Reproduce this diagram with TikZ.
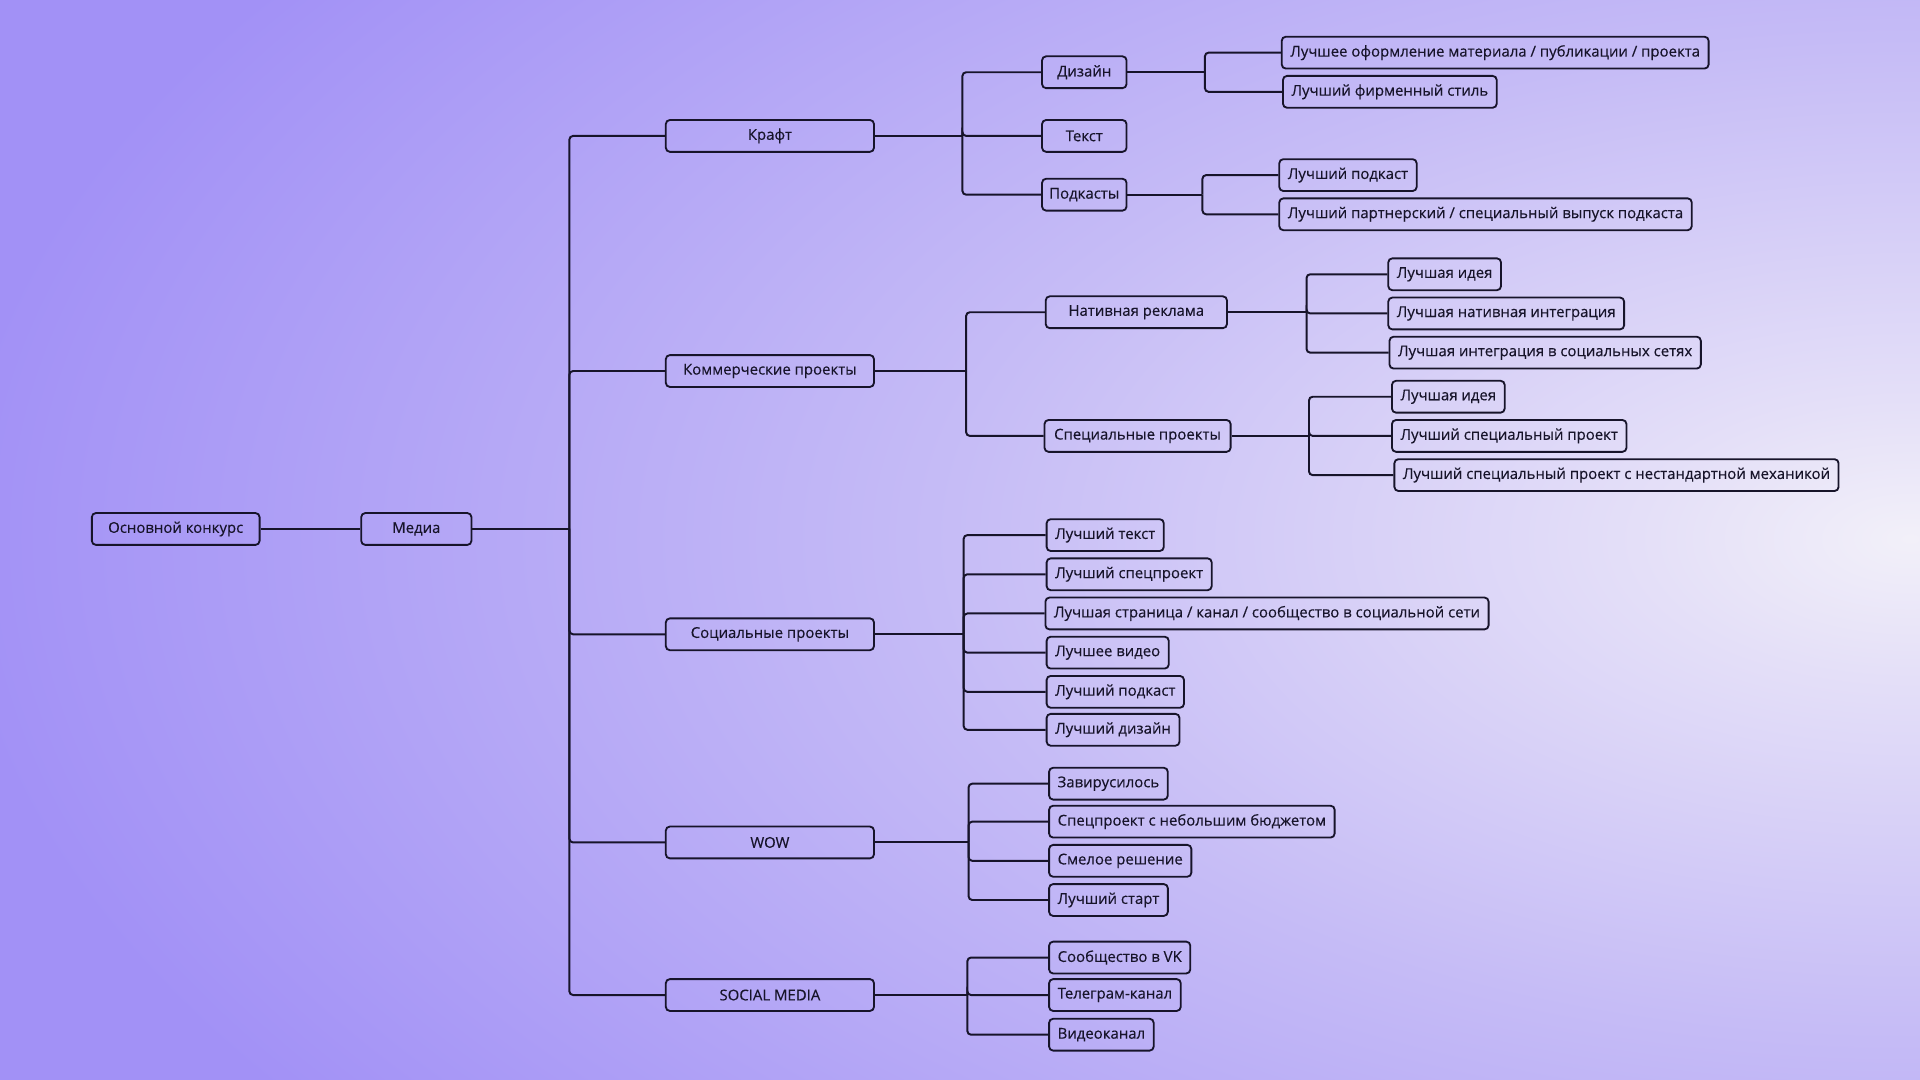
\documentclass[tikz,border=0pt]{standalone}
\usepackage{fontspec}
\setmainfont[FakeBold=0.3]{Open Sans}
\usepackage{tikz}
\usetikzlibrary{positioning,calc}
\definecolor{inkdark}{HTML}{17142A}
\definecolor{bgwhite}{HTML}{F2F0F9}
\definecolor{bglight}{HTML}{E4DFF8}
\definecolor{bgmid}{HTML}{C5BBF6}
\definecolor{bgdeep}{HTML}{A291F6}
\pgfdeclareradialshading{bgglow}{\pgfpoint{0bp}{0bp}}{color(0bp)=(bgwhite); color(3.5bp)=(bglight); color(12.5bp)=(bgmid); color(25bp)=(bgdeep); color(50bp)=(bgdeep)}

\begin{document}
\begin{tikzpicture}[x=1pt, y=-1pt,
    box/.style={rectangle, draw=inkdark, line width=1.5pt, rounded corners=3.3pt, minimum height=26pt, inner xsep=7pt, text=inkdark, font=\fontsize{12.2}{14}\selectfont},
    mainbox/.style={box, anchor=west, minimum width=170pt},
    subbox/.style={box, minimum width=69pt, inner xsep=3pt},
    leaf/.style={box, anchor=west, align=left},
    link/.style={draw=inkdark, line width=1.6pt, rounded corners=3pt}
]
    % background
    \begin{scope}
        \clip (0,0) rectangle (1568,882);
        \shade[shading=bgglow] (-40,-380) rectangle (3160,1260);
    \end{scope}
    \useasboundingbox (0,0) rectangle (1568,882);

    % root
    \node[box, minimum width=137pt] (osnovnoy) at (143.5,432) {Основной конкурс};
    \node[box, minimum width=90pt] (media) at (340,432) {Медиа};

    % categories
    \node[mainbox] (kraft) at (543,111) {Крафт};
    \node[mainbox] (kommerch) at (543,303) {Коммерческие проекты};
    \node[mainbox] (social) at (543,518) {Социальные проекты};
    \node[mainbox] (wow) at (543,688) {WOW};
    \node[mainbox] (socmedia) at (543,812.6) {SOCIAL MEDIA};

    % craft
    \node[subbox] (dizain) at (885.5,59) {Дизайн};
    \node[subbox] (tekst) at (885.5,111) {Текст};
    \node[subbox] (podkasty) at (885.5,159) {Подкасты};
    \node[leaf] (oformlenie) at (1046,43) {Лучшее оформление материала / публикации / проекта};
    \node[leaf] (firmstil) at (1047,75) {Лучший фирменный стиль};
    \node[leaf] (podkast) at (1044,143) {Лучший подкаст};
    \node[leaf] (partner) at (1044,175) {Лучший партнерский / специальный выпуск подкаста};

    % commercial
    \node[box, minimum width=148pt] (nativ) at (928,255) {Нативная реклама};
    \node[box, minimum width=152pt] (spec) at (929,356) {Специальные проекты};
    \node[leaf] (nativideya) at (1133,224) {Лучшая идея};
    \node[leaf] (nativintegr) at (1133,256) {Лучшая нативная интеграция};
    \node[leaf] (nativsoc) at (1134,288) {Лучшая интеграция в социальных сетях};
    \node[leaf] (specideya) at (1136,324) {Лучшая идея};
    \node[leaf] (specproekt) at (1136,356) {Лучший специальный проект};
    \node[leaf] (specmeh) at (1138,388) {Лучший специальный проект с нестандартной механикой};

    % social projects
    \node[leaf] (soctekst) at (854,437) {Лучший текст};
    \node[leaf] (socspec) at (854,469) {Лучший спецпроект};
    \node[leaf] (socstr) at (853,501) {Лучшая страница / канал / сообщество в социальной сети};
    \node[leaf] (socvideo) at (854,533) {Лучшее видео};
    \node[leaf] (socpodkast) at (854,565) {Лучший подкаст};
    \node[leaf] (socdizain) at (854,596) {Лучший дизайн};

    % wow
    \node[leaf] (viral) at (856,640) {Завирусилось};
    \node[leaf] (budget) at (856,671) {Спецпроект с небольшим бюджетом};
    \node[leaf] (smelo) at (856,703) {Смелое решение};
    \node[leaf] (start) at (856,735) {Лучший старт};

    % social media
    \node[leaf] (vk) at (856,782) {Сообщество в VK};
    \node[leaf] (telegram) at (856,812.6) {Телеграм-канал};
    \node[leaf] (videokanal) at (856,845) {Видеоканал};

    % buses
    \coordinate (mediabus) at (465,432);
    \coordinate (kraftbus) at (786,111);
    \coordinate (dizainbus) at (984,59);
    \coordinate (podkastybus) at (982,159);
    \coordinate (kommerchbus) at (789,303);
    \coordinate (nativbus) at (1067,255);
    \coordinate (specbus) at (1069,356);
    \coordinate (socialbus) at (787,518);
    \coordinate (wowbus) at (791,688);
    \coordinate (socmediabus) at (790,812.6);

    % connectors
    \draw[link] (osnovnoy) -- (media);
    \foreach \p/\kids in {media/{kraft,kommerch,social,wow,socmedia},
                          kraft/{dizain,tekst,podkasty},
                          dizain/{oformlenie,firmstil},
                          podkasty/{podkast,partner},
                          kommerch/{nativ,spec},
                          nativ/{nativideya,nativintegr,nativsoc},
                          spec/{specideya,specproekt,specmeh},
                          social/{soctekst,socspec,socstr,socvideo,socpodkast,socdizain},
                          wow/{viral,budget,smelo,start},
                          socmedia/{vk,telegram,videokanal}} {
        \draw[link] (\p.east) -- (\p bus);
        \foreach \c in \kids
            \draw[link] (\p bus) |- (\c.west);
    }
\end{tikzpicture}
\end{document}
